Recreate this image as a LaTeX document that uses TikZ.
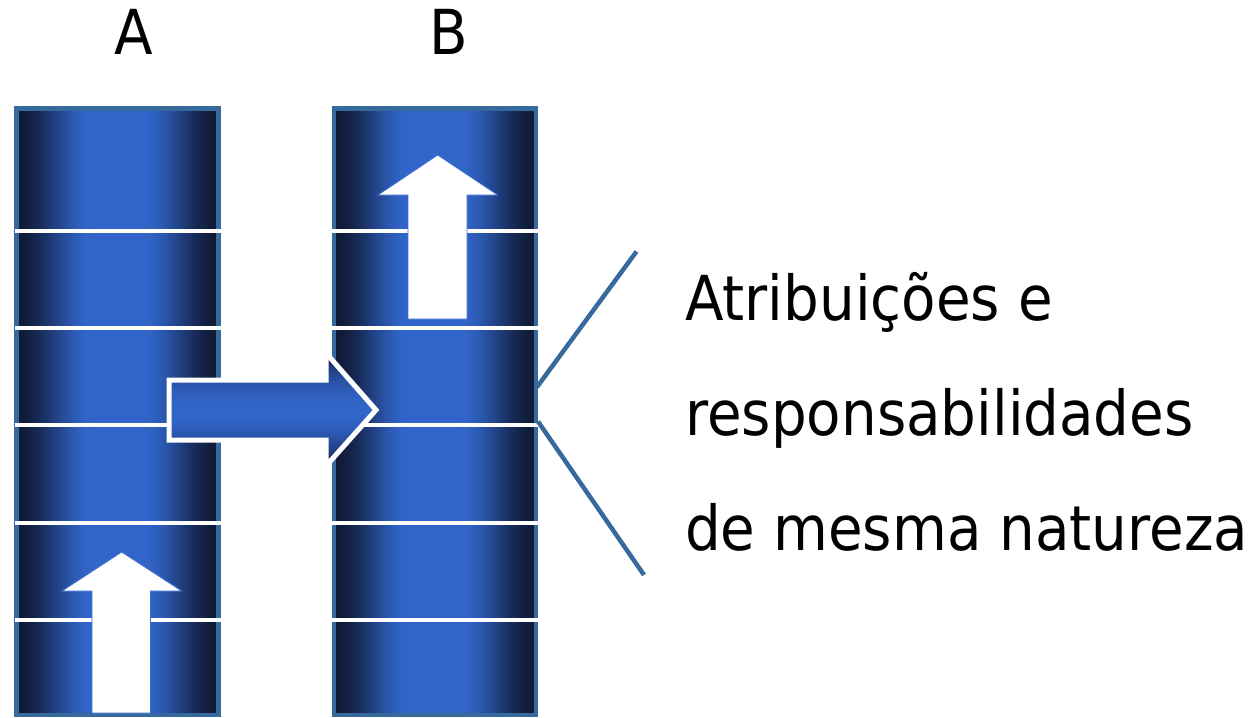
\documentclass[tikz,border=0pt]{standalone}
\usepackage{fontspec}
\setmainfont{DejaVu Sans}
\definecolor{cdark}{HTML}{101A36}
\definecolor{cbright}{HTML}{3165C9}
\definecolor{cborder}{HTML}{36699C}
\definecolor{cglow}{HTML}{3C70D2}
\newsavebox\refbox
\begin{document}
\sbox\refbox{\fontsize{62}{62}\selectfont de mesma natureza}%
\pgfmathsetmacro\sx{563/\the\wd\refbox}%
\begin{tikzpicture}[x=1pt,y=-1pt,
  colframe/.style={draw=cborder, line width=4.5pt},
  divider/.style={draw=white, line width=4.5pt},
  uparrow/.style={fill=white, draw=cglow, line width=0.8pt, line join=miter},
  sidearrow/.style={draw=white, line width=5pt, line join=miter},
  callout/.style={draw=cborder, line width=4.5pt},
  txt/.style={inner sep=0pt, anchor=base west, font=\fontsize{62}{62}\selectfont},
  lbl/.style={inner sep=0pt, anchor=base, font=\fontsize{62}{62}\selectfont}]
\useasboundingbox (0,0) rectangle (1257,717);
% columns with horizontal gradient built from strips (smoothstep ramps)
\foreach \xl in {16.5,334}{
  \begin{scope}
    \clip (\xl,108.5) rectangle ({\xl+202},715);
    \foreach \i in {0,...,100}{
      \pgfmathsetmacro\t{\i/100}
      \pgfmathsetmacro\s{ifthenelse(\t<0.37, \t/0.37, ifthenelse(\t<0.62, 1, (1-\t)/0.38))}
      \pgfmathsetmacro\p{100*(3*\s*\s-2*\s*\s*\s)}
      \fill[cbright!\p!cdark] ({\xl+\i*2.02-0.4},108.5) rectangle ({\xl+\i*2.02+2.4},715);
    }
  \end{scope}
}
\draw[colframe] (16.5,108.5) rectangle (218.5,715);
\draw[colframe] (334,108.5) rectangle (536,715);
% dividers
\foreach \yy in {231,328,425,523,620}{
  \draw[divider] (14.5,\yy) -- (220.5,\yy);
  \draw[divider] (332,\yy) -- (538,\yy);
}
% up arrows
\path[uparrow] (92,713) -- (92,591) -- (62,591) -- (121.7,552) -- (181.7,591) -- (150.5,591) -- (150.5,713) -- cycle;
\path[uparrow] (408,319) -- (408,195) -- (378,195) -- (437.7,155) -- (497.7,195) -- (467,195) -- (467,319) -- cycle;
% side arrow A -> B
\begin{scope}
  \clip (169,380) -- (326,380) -- (326,353) -- (376,410) -- (326,466) -- (326,440) -- (169,440) -- cycle;
  \foreach \j in {0,...,57}{
    \pgfmathsetmacro\g{1-abs(353+\j*2+1-410)/57}
    \pgfmathsetmacro\q{100*(1-(1-\g)*(1-\g))}
    \fill[cbright!\q!cdark] (160,{353+\j*2-0.4}) rectangle (380,{353+\j*2+2.4});
  }
\end{scope}
\path[sidearrow] (169,380) -- (326,380) -- (326,353) -- (376,410) -- (326,466) -- (326,440) -- (169,440) -- cycle;
% callout lines
\coordinate (p1) at (537,387);
\coordinate (q1) at (636.5,251.5);
\coordinate (p2) at (538,421.5);
\coordinate (q2) at (644,575);
\draw[callout] (p1) -- (q1);
\draw[callout] (p2) -- (q2);
% labels
\node[lbl] (la) at (134,55) {\scalebox{\sx}[1]{A}};
\node[lbl] (lb) at (449,55) {\scalebox{\sx}[1]{B}};
\node[txt] (t1) at (685,320) {\scalebox{\sx}[1]{Atribuições e}};
\node[txt] (t2) at (685,435) {\scalebox{\sx}[1]{responsabilidades}};
\node[txt] (t3) at (685,550) {\scalebox{\sx}[1]{de mesma natureza}};
\end{tikzpicture}
\end{document}
